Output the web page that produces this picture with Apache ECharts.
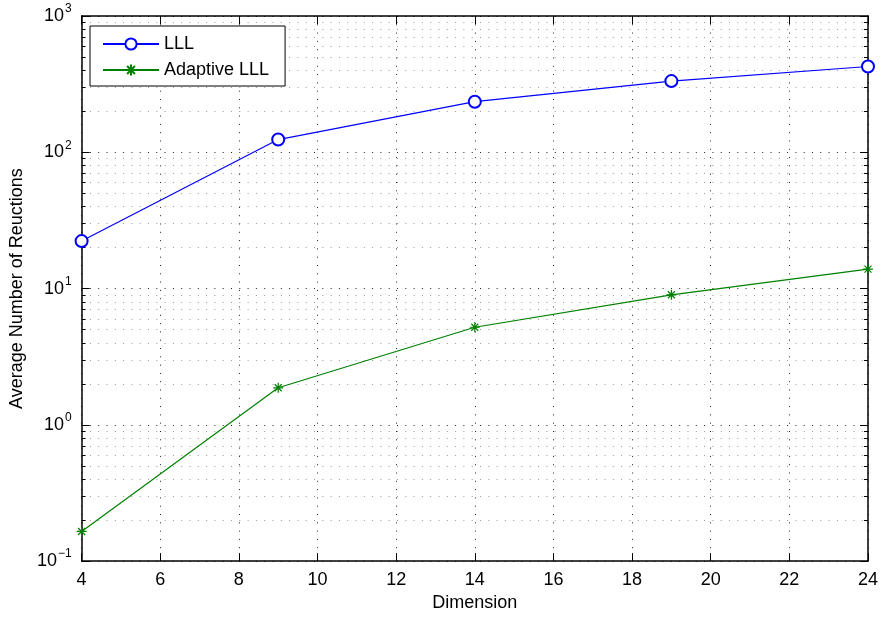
<!DOCTYPE html>
<html>
<head>
<meta charset="utf-8">
<title>Average Number of Reductions vs Dimension</title>
<script src="https://cdn.jsdelivr.net/npm/echarts@6/dist/echarts.min.js"></script>
<style>
  html, body { margin: 0; padding: 0; background: #fff; }
  #chart { width: 881px; height: 617px; }
</style>
</head>
<body>
<div id="chart"></div>
<script>
// Lattice dimension on the x axis
const dimensions = [4, 9, 14, 19, 24];
// Average number of reductions (log scale)
const lllValues = [22.3, 124, 235, 333, 426];
const adaptiveValues = [0.165, 1.87, 5.2, 9.0, 13.9];

const xTicks = [4, 6, 8, 10, 12, 14, 16, 18, 20, 22, 24];
const yDecades = [0.1, 1, 10, 100, 1000];
// 2..9 within each decade, for the minor grid
const yMinor = [
  0.2, 0.3, 0.4, 0.5, 0.6, 0.7, 0.8, 0.9,
  2, 3, 4, 5, 6, 7, 8, 9,
  20, 30, 40, 50, 60, 70, 80, 90,
  200, 300, 400, 500, 600, 700, 800, 900
];

const FONT = '"Liberation Sans", Arial, Helvetica, sans-serif';
const dotted = [1, 7.3];

// asterisk marker: plus and cross, stroked
const asterisk = 'path://M5,0 L5,10 M0,5 L10,5 M1.5,1.5 L8.5,8.5 M8.5,1.5 L1.5,8.5';

const chart = echarts.init(document.getElementById('chart'), null, { renderer: 'canvas' });

const xRange = { min: xTicks[0], max: xTicks[xTicks.length - 1], interval: 2 };
const logMin = Math.log10(yDecades[0]);
const logMax = Math.log10(yDecades[yDecades.length - 1]);
const minorLog = yMinor.map(v => Math.log10(v));

function decadeLabel(v) {
  const e = Math.round(Math.log10(v));
  return '{b|10}{e|' + (e < 0 ? '\u2212' + (-e) : e) + '}';
}

const option = {
  backgroundColor: '#ffffff',
  animation: false,
  textStyle: { fontFamily: FONT },
  grid: { left: 78, right: 13, top: 16, bottom: 54, containLabel: false },
  legend: {
    orient: 'vertical',
    left: 90,
    top: 26,
    padding: [9, 16, 7, 12],
    itemWidth: 56,
    itemHeight: 14,
    itemGap: 8,
    borderColor: '#000',
    borderWidth: 1,
    backgroundColor: '#fff',
    textStyle: { fontSize: 18, color: '#000', fontFamily: FONT },
    data: ['LLL', 'Adaptive LLL']
  },
  xAxis: [
    {
      type: 'value',
      ...xRange,
      position: 'bottom',
      name: 'Dimension',
      nameLocation: 'middle',
      nameGap: 30,
      nameTextStyle: { fontSize: 18, color: '#000', fontFamily: FONT },
      axisLine: { show: true, onZero: false, lineStyle: { color: '#000', width: 1.5 } },
      axisTick: { show: true, inside: true, length: 8, lineStyle: { color: '#000', width: 1 } },
      axisLabel: { fontSize: 18, color: '#000', margin: 10, fontFamily: FONT },
      splitLine: { show: true, lineStyle: { color: '#222', width: 1, type: dotted } }
    },
    {
      type: 'value',
      ...xRange,
      position: 'top',
      axisLine: { show: true, onZero: false, lineStyle: { color: '#000', width: 1.5 } },
      axisTick: { show: true, inside: true, length: 8, lineStyle: { color: '#000', width: 1 } },
      axisLabel: { show: false },
      splitLine: { show: false }
    }
  ],
  yAxis: [
    {
      type: 'log',
      logBase: 10,
      min: yDecades[0],
      max: yDecades[yDecades.length - 1],
      position: 'left',
      name: 'Average Number of Reuctions',
      nameLocation: 'middle',
      nameGap: 50,
      nameTextStyle: { fontSize: 18, color: '#000', fontFamily: FONT },
      axisLine: { show: true, onZero: false, lineStyle: { color: '#000', width: 1.5 } },
      axisTick: { show: true, inside: true, length: 8, lineStyle: { color: '#000', width: 1 } },
      axisLabel: {
        color: '#000',
        margin: 10,
        formatter: decadeLabel,
        rich: {
          b: { fontSize: 18, fontFamily: FONT, color: '#000' },
          e: { fontSize: 12, fontFamily: FONT, color: '#000', padding: [0, 0, 14, 1] }
        }
      },
      splitLine: { show: true, lineStyle: { color: '#222', width: 1, type: dotted } }
    },
    {
      type: 'log',
      logBase: 10,
      min: yDecades[0],
      max: yDecades[yDecades.length - 1],
      position: 'right',
      axisLine: { show: true, onZero: false, lineStyle: { color: '#000', width: 1.5 } },
      axisTick: { show: true, inside: true, length: 8, lineStyle: { color: '#000', width: 1 } },
      axisLabel: { show: false },
      splitLine: { show: false }
    },
    {
      // minor ticks + minor grid, placed in log10 space
      type: 'value',
      min: logMin,
      max: logMax,
      position: 'left',
      axisLine: { show: false },
      axisTick: { show: true, inside: true, length: 4, customValues: minorLog, lineStyle: { color: '#000', width: 1 } },
      axisLabel: { show: false, customValues: minorLog },
      splitLine: { show: true, lineStyle: { color: '#999', width: 1, type: dotted } }
    },
    {
      type: 'value',
      min: logMin,
      max: logMax,
      position: 'right',
      axisLine: { show: false },
      axisTick: { show: true, inside: true, length: 4, customValues: minorLog, lineStyle: { color: '#000', width: 1 } },
      axisLabel: { show: false, customValues: minorLog },
      splitLine: { show: false }
    }
  ],
  series: [
    {
      name: 'LLL',
      type: 'line',
      xAxisIndex: 0,
      yAxisIndex: 0,
      data: dimensions.map((d, i) => [d, lllValues[i]]),
      symbol: 'emptyCircle',
      symbolSize: 12,
      showAllSymbol: true,
      lineStyle: { color: '#0000ff', width: 1.2 },
      itemStyle: { color: '#0000ff', borderColor: '#0000ff', borderWidth: 1.2 },
      emphasis: { disabled: true },
      z: 5
    },
    {
      name: 'Adaptive LLL',
      type: 'line',
      xAxisIndex: 0,
      yAxisIndex: 0,
      data: dimensions.map((d, i) => [d, adaptiveValues[i]]),
      symbol: asterisk,
      symbolSize: 10,
      showAllSymbol: true,
      lineStyle: { color: '#008000', width: 1.2 },
      itemStyle: { color: '#008000', borderColor: '#008000', borderWidth: 1.2 },
      emphasis: { disabled: true },
      z: 5
    }
  ]
};

chart.setOption(option);
</script>
</body>
</html>
